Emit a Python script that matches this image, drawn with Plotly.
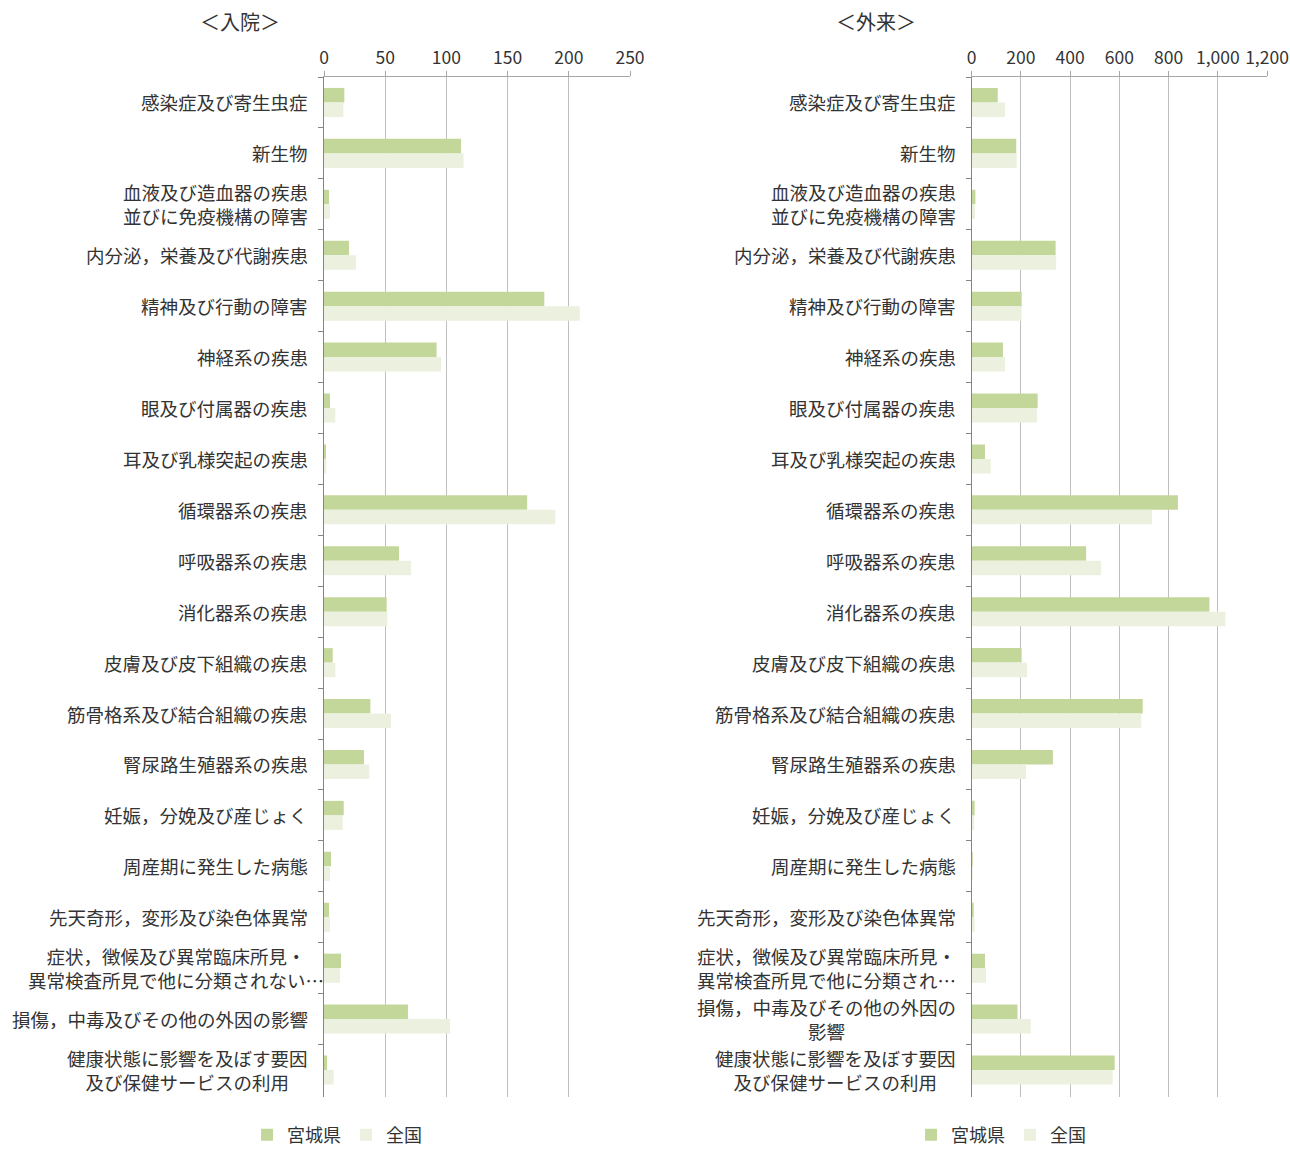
import plotly.graph_objects as go

categories = [
    "感染症及び寄生虫症", "新生物", "血液及び造血器の疾患並びに免疫機構の障害",
    "内分泌，栄養及び代謝疾患", "精神及び行動の障害", "神経系の疾患", "眼及び付属器の疾患",
    "耳及び乳様突起の疾患", "循環器系の疾患", "呼吸器系の疾患", "消化器系の疾患",
    "皮膚及び皮下組織の疾患", "筋骨格系及び結合組織の疾患", "腎尿路生殖器系の疾患",
    "妊娠，分娩及び産じょく", "周産期に発生した病態", "先天奇形，変形及び染色体異常",
    "症状，徴候及び異常臨床所見・異常検査所見で他に分類されないもの",
    "損傷，中毒及びその他の外因の影響", "健康状態に影響を及ぼす要因及び保健サービスの利用",
]

labels_in = [
    "感染症及び寄生虫症", "新生物", "血液及び造血器の疾患<br>並びに免疫機構の障害",
    "内分泌，栄養及び代謝疾患", "精神及び行動の障害", "神経系の疾患", "眼及び付属器の疾患",
    "耳及び乳様突起の疾患", "循環器系の疾患", "呼吸器系の疾患", "消化器系の疾患",
    "皮膚及び皮下組織の疾患", "筋骨格系及び結合組織の疾患", "腎尿路生殖器系の疾患",
    "妊娠，分娩及び産じょく", "周産期に発生した病態", "先天奇形，変形及び染色体異常",
    "症状，徴候及び異常臨床所見・<br>異常検査所見で他に分類されない…",
    "損傷，中毒及びその他の外因の影響", "健康状態に影響を及ぼす要因<br>及び保健サービスの利用",
]

labels_out = [
    "感染症及び寄生虫症", "新生物", "血液及び造血器の疾患<br>並びに免疫機構の障害",
    "内分泌，栄養及び代謝疾患", "精神及び行動の障害", "神経系の疾患", "眼及び付属器の疾患",
    "耳及び乳様突起の疾患", "循環器系の疾患", "呼吸器系の疾患", "消化器系の疾患",
    "皮膚及び皮下組織の疾患", "筋骨格系及び結合組織の疾患", "腎尿路生殖器系の疾患",
    "妊娠，分娩及び産じょく", "周産期に発生した病態", "先天奇形，変形及び染色体異常",
    "症状，徴候及び異常臨床所見・<br>異常検査所見で他に分類され…",
    "損傷，中毒及びその他の外因の<br>影響", "健康状態に影響を及ぼす要因<br>及び保健サービスの利用",
]

miyagi_in = [16.6, 112, 4.1, 20.4, 180, 92, 4.9, 1.4, 166, 61.3, 51.2, 7.1, 37.9, 32.7,
             16.1, 5.7, 4.1, 13.9, 68.6, 2.5]
zenkoku_in = [15.8, 114, 4.9, 26.1, 209, 95.6, 9.3, 1.9, 189, 71, 51.7, 9.3, 54.7, 37,
              15.3, 4.9, 4.9, 13.1, 103, 7.9]

miyagi_out = [106, 181, 15, 341, 203, 127, 268, 54, 838, 465, 966, 203, 695, 330,
              12, 4, 8, 54, 186, 581]
zenkoku_out = [135, 183, 13.5, 343, 203, 135, 265, 77, 733, 526, 1031, 225, 689, 221,
               10, 1.5, 12, 58, 240, 573]

title_in = "＜入院＞"
title_out = "＜外来＞"
series_names = ["宮城県", "全国"]
colors = ["#C4D79B", "#EBF1DE"]

FONT = "Noto Sans CJK JP"
TEXT_COLOR = "#333333"
W, H = 1290, 1150

fig = go.Figure()
for i, (vals_in, vals_out) in enumerate([(miyagi_in, miyagi_out), (zenkoku_in, zenkoku_out)]):
    fig.add_trace(go.Bar(y=categories, x=vals_in, orientation="h", name=series_names[i],
                         marker=dict(color=colors[i], line=dict(width=0)),
                         xaxis="x", yaxis="y", legend="legend"))
    fig.add_trace(go.Bar(y=categories, x=vals_out, orientation="h", name=series_names[i],
                         marker=dict(color=colors[i], line=dict(width=0)),
                         xaxis="x2", yaxis="y2", legend="legend2"))

ydom = [1 - 1097 / H, 1 - 77 / H]
xcommon = dict(side="top", showgrid=True, gridcolor="#BFBFBF", gridwidth=1,
               showline=True, linecolor="#A6A6A6", linewidth=1, ticks="outside",
               ticklen=5, tickcolor="#A6A6A6", zeroline=False,
               tickfont=dict(family=FONT, size=17.5, color=TEXT_COLOR), fixedrange=True)
ycommon = dict(type="category", autorange="reversed", showticklabels=False,
               ticks="outside", tickson="boundaries", ticklen=5, tickcolor="#868686",
               showline=True, linecolor="#868686", linewidth=1, showgrid=False,
               domain=ydom, fixedrange=True)

legend_y = (H - 1135) / H
fig.update_layout(
    width=W, height=H,
    margin=dict(l=0, r=0, t=0, b=0, autoexpand=False),
    paper_bgcolor="white", plot_bgcolor="white",
    font=dict(family=FONT, color=TEXT_COLOR, size=18),
    barmode="group", bargap=0.43, bargroupgap=0,
    xaxis=dict(domain=[324 / W, 630 / W], range=[0, 250], dtick=50, tick0=0,
               anchor="y", **xcommon),
    xaxis2=dict(domain=[971.7 / W, 1267 / W], range=[0, 1200], dtick=200, tick0=0,
                tickformat=",d", anchor="y2", **xcommon),
    yaxis=dict(anchor="x", **ycommon),
    yaxis2=dict(anchor="x2", **ycommon),
    legend=dict(orientation="h", x=337 / W, xanchor="center", y=legend_y,
                yanchor="middle", font=dict(size=18, family=FONT, color=TEXT_COLOR),
                bgcolor="rgba(0,0,0,0)", itemwidth=30),
    legend2=dict(orientation="h", x=1001 / W, xanchor="center", y=legend_y,
                 yanchor="middle", font=dict(size=18, family=FONT, color=TEXT_COLOR),
                 bgcolor="rgba(0,0,0,0)", itemwidth=30),
    showlegend=True,
)

annotations = []
for c, lab in zip(categories, labels_in):
    shift = 2 if "他に分類" in lab else -14
    annotations.append(dict(text=lab, x=0, xref="x domain", y=c, yref="y",
                            xanchor="right", yanchor="middle", xshift=shift,
                            align="center", showarrow=False,
                            font=dict(family=FONT, size=18.5, color=TEXT_COLOR)))
for c, lab in zip(categories, labels_out):
    annotations.append(dict(text=lab, x=0, xref="x2 domain", y=c, yref="y2",
                            xanchor="right", yanchor="middle", xshift=-14,
                            align="center", showarrow=False,
                            font=dict(family=FONT, size=18.5, color=TEXT_COLOR)))
annotations.append(dict(text=title_in, x=240 / W, y=(H - 21) / H, xref="paper", yref="paper",
                        xanchor="center", yanchor="middle", showarrow=False,
                        font=dict(family=FONT, size=20, color=TEXT_COLOR)))
annotations.append(dict(text=title_out, x=876 / W, y=(H - 21) / H, xref="paper", yref="paper",
                        xanchor="center", yanchor="middle", showarrow=False,
                        font=dict(family=FONT, size=20, color=TEXT_COLOR)))
fig.update_layout(annotations=annotations)

fig.write_html("out.html", config={"displayModeBar": False},
               post_script="document.body.style.margin='0px';document.body.style.overflow='hidden';")
